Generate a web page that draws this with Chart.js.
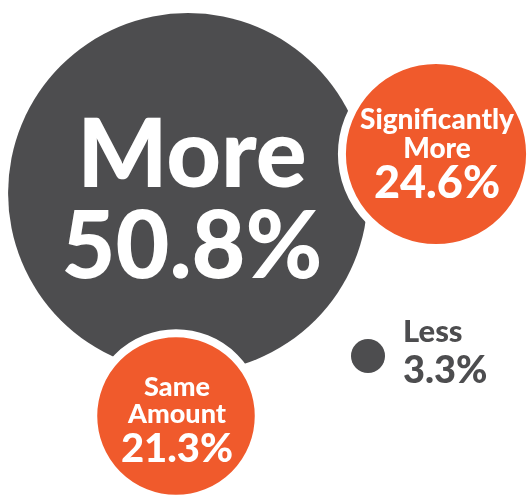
<!DOCTYPE html>
<html>
<head>
<meta charset="utf-8">
<script src="https://cdn.jsdelivr.net/npm/chart.js@4"></script>
<style>
html,body{margin:0;padding:0;background:#fff;}
#wrap{width:528px;height:497px;position:relative;}
</style>
</head>
<body>
<div id="wrap"><canvas id="c"></canvas></div>
<script>
// ---- data ----
const categories = ["More", "Significantly More", "Same Amount", "Less"];
const values = [50.8, 24.6, 21.3, 3.3];
const labelLines = [["More"], ["Significantly", "More"], ["Same", "Amount"], ["Less"]];

// ---- layout (positions in data space of a 528x497 plane) ----
const bubbleX = [188, 436, 176, 368];
const bubbleY = [193, 154, 416, 356];
const borderW = [0, 8, 8, 0];

const DARK = "#4d4d4f";
const ORANGE = "#f05a2c";
const fills = [DARK, ORANGE, ORANGE, DARK];

function radiusFor(v){ return 3.43 * v + 5.7; }

const points = values.map((v, i) => ({
  x: bubbleX[i], y: bubbleY[i], r: radiusFor(v) + borderW[i] / 2
}));

const FONT = "Lato, 'Open Sans', sans-serif";
const textStyle = [
  {lines:[{dy:-37,size:95}], pct:{dy:55,size:93}, color:"#fff", align:"center", dx:4},
  {lines:[{dy:-34,size:28},{dy:-5,size:28}], pct:{dy:29,size:45}, color:"#fff", align:"center", dx:1},
  {lines:[{dy:-29,size:27},{dy:-2,size:27}], pct:{dy:33,size:40}, color:"#fff", align:"center", dx:1},
  {lines:[{dy:-24,size:31}], pct:{dy:15,size:38}, color:DARK, align:"left", dx:35}
];

const labelPlugin = {
  id: "bubbleLabels",
  afterDatasetsDraw(chart){
    const ctx = chart.ctx;
    const meta = chart.getDatasetMeta(0);
    meta.data.forEach((el, i) => {
      const st = textStyle[i];
      ctx.save();
      ctx.fillStyle = st.color;
      ctx.textAlign = st.align;
      ctx.textBaseline = "middle";
      const x = el.x + st.dx;
      labelLines[i].forEach((t, j) => {
        const ln = st.lines[j];
        ctx.font = `900 ${ln.size}px ${FONT}`;
        ctx.fillText(t, x, el.y + ln.dy);
      });
      ctx.font = `900 ${st.pct.size}px ${FONT}`;
      ctx.fillText(values[i].toFixed(1) + "%", x, el.y + st.pct.dy);
      ctx.restore();
    });
  }
};

new Chart(document.getElementById("c"), {
  type: "bubble",
  data: {
    labels: categories,
    datasets: [{
      data: points,
      backgroundColor: fills,
      borderColor: "#ffffff",
      borderWidth: borderW,
      hoverBorderWidth: borderW,
      clip: false
    }]
  },
  options: {
    responsive: true,
    maintainAspectRatio: false,
    animation: false,
    events: [],
    layout: { padding: 0, autoPadding: false },
    plugins: { legend: { display: false }, tooltip: { enabled: false } },
    scales: {
      x: { type: "linear", min: 0, max: 528, display: false },
      y: { type: "linear", min: 0, max: 497, reverse: true, display: false }
    }
  },
  plugins: [labelPlugin]
});
</script>
</body>
</html>
